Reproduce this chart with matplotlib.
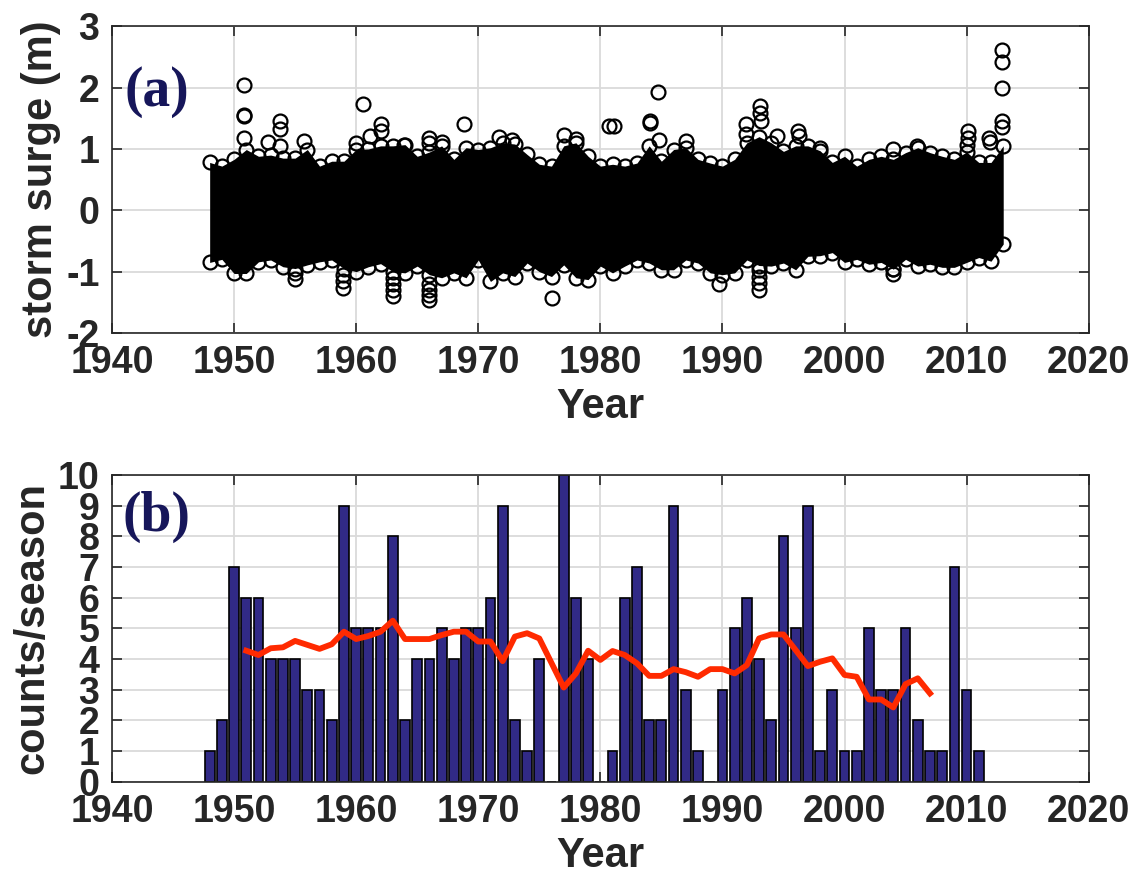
import numpy as np
import matplotlib
matplotlib.use("Agg")
import matplotlib.pyplot as plt

plt.rcParams['font.family'] = ['Liberation Sans', 'DejaVu Sans']
plt.rcParams['font.weight'] = 'bold'
plt.rcParams['axes.labelweight'] = 'bold'
plt.rcParams['axes.unicode_minus'] = False

# --- panel (a): storm surge record -------------------------------------
# dense core of the record, per year (upper / lower edge of the cloud, m)
surge_years = list(range(1948, 2014))
surge_upper = [0.78, 0.72, 0.83, 0.99, 0.88, 0.90, 0.85, 0.85, 0.99, 0.72,
               0.80, 0.80, 0.99, 1.00, 1.05, 1.05, 1.07, 0.88, 0.95, 1.05,
               0.83, 1.02, 0.99, 1.02, 1.10, 1.08, 0.91, 0.75, 0.72, 1.05,
               1.10, 0.88, 0.72, 0.75, 0.72, 0.77, 1.05, 0.80, 0.99, 1.02,
               0.83, 0.77, 0.72, 0.83, 1.10, 1.20, 1.10, 0.96, 1.05, 1.05,
               0.97, 0.78, 0.88, 0.72, 0.83, 0.88, 0.83, 0.94, 1.02, 0.94,
               0.88, 0.83, 0.95, 0.78, 0.78, 1.05]
surge_lower = [-0.85, -0.80, -1.03, -1.03, -0.84, -0.81, -0.92, -0.95, -0.89, -0.84,
               -0.81, -0.95, -1.00, -0.92, -0.87, -1.00, -1.02, -0.91, -1.05, -1.10,
               -1.02, -1.10, -0.81, -1.16, -1.02, -1.08, -0.86, -1.00, -1.08, -0.89,
               -1.10, -1.13, -0.91, -1.02, -0.91, -0.81, -0.86, -0.97, -0.97, -0.81,
               -0.86, -1.02, -1.05, -1.02, -0.81, -0.90, -0.91, -0.86, -0.97, -0.75,
               -0.74, -0.69, -0.85, -0.80, -0.88, -0.85, -0.96, -0.80, -0.91, -0.88,
               -0.93, -0.93, -0.85, -0.77, -0.83, -0.55]

# isolated extreme events
extreme_time = [1950.85, 1950.85, 1950.85, 1950.85, 1953.8, 1953.8, 1953.8, 1952.8,
                1955.75, 1960.6, 1962.0, 1962.0, 1961.1, 1960.0, 1963.9,
                1955.0, 1955.0, 1958.9, 1958.9, 1958.9,
                1963.0, 1963.0, 1963.0, 1963.0,
                1968.8, 1980.7, 1966.0, 1966.0, 1967.0, 1971.7, 1972.8, 1977.0, 1978.0,
                1976.0, 1966.0, 1966.0, 1966.0, 1966.0,
                1984.7, 1981.1, 1984.1, 1984.1, 1984.8, 1987.0, 1993.1, 1993.1, 1993.2,
                1991.9, 1991.9, 1994.5, 1996.2, 1996.3, 1989.7,
                1993.0, 1993.0, 1993.0, 1993.0,
                2012.9, 2012.9, 2012.9, 2012.9, 2012.9, 2011.8, 2011.9, 2010.1, 2010.1,
                2010.0, 2004.0, 2005.9, 1998.0, 2004.0, 2004.0]
extreme_surge = [2.04, 1.56, 1.53, 1.17, 1.45, 1.32, 1.04, 1.11,
                 1.13, 1.73, 1.40, 1.29, 1.21, 1.10, 1.07,
                 -1.02, -1.12, -1.05, -1.15, -1.27,
                 -1.10, -1.20, -1.30, -1.40,
                 1.41, 1.37, 1.18, 1.10, 1.11, 1.20, 1.14, 1.22, 1.16,
                 -1.43, -1.46, -1.38, -1.30, -1.20,
                 1.92, 1.38, 1.45, 1.42, 1.15, 1.13, 1.70, 1.59, 1.45,
                 1.40, 1.24, 1.21, 1.29, 1.21, -1.20,
                 -1.30, -1.19, -1.08, -0.97,
                 2.62, 2.42, 2.00, 1.45, 1.35, 1.17, 1.11, 1.29, 1.17,
                 1.06, 1.00, 1.05, 1.02, -1.04, -0.96]

# --- panel (b): event counts per season --------------------------------
count_years = list(range(1948, 2012))
counts = [1, 2, 7, 6, 6, 4, 4, 4, 3, 3, 2, 9, 5, 5, 5, 8, 2, 4, 4, 5,
          4, 5, 5, 6, 9, 2, 1, 4, 0, 10, 6, 4, 0, 1, 6, 7, 2, 2, 9, 3,
          1, 0, 3, 5, 6, 4, 2, 8, 5, 9, 1, 3, 1, 1, 5, 3, 3, 5, 2, 1,
          1, 7, 3, 1]

# running mean of the counts
mean_years = list(range(1951, 2008))
running_mean = [4.27, 4.13, 4.35, 4.38, 4.59, 4.46, 4.33, 4.48, 4.89, 4.65,
                4.75, 4.89, 5.25, 4.65, 4.65, 4.65, 4.78, 4.89, 4.89, 4.57,
                4.57, 3.93, 4.73, 4.84, 4.67, 3.87, 3.07, 3.53, 4.27, 3.97,
                4.26, 4.13, 3.86, 3.45, 3.45, 3.67, 3.57, 3.42, 3.67, 3.67,
                3.53, 3.80, 4.67, 4.80, 4.80, 4.29, 3.77, 3.91, 4.02, 3.48,
                3.42, 2.68, 2.68, 2.42, 3.18, 3.37, 2.88]

text_col = '#262626'
grid_col = '#dadada'


def style_axes(ax):
    ax.grid(True, color=grid_col, linewidth=1.3)
    ax.set_axisbelow(True)
    ax.tick_params(direction='in', length=7, width=1.2, labelsize=27,
                   colors=text_col, top=True, right=True, labeltop=False,
                   labelright=False)
    ax.tick_params(axis='x', pad=9)
    ax.tick_params(axis='y', pad=9)
    for s in ax.spines.values():
        s.set_color(text_col)
        s.set_linewidth(1.2)
    ax.set_xlim(1940, 2020)
    ax.set_xticks(range(1940, 2021, 10))
    ax.set_xlabel('Year', fontsize=30, color=text_col, labelpad=4)


fig = plt.figure(figsize=(11.37, 8.74), dpi=100)

ax1 = fig.add_axes([0.0985, 0.619, 0.859, 0.351])
ax1.fill_between(surge_years, surge_lower, surge_upper, color='k',
                 linewidth=0, zorder=2)
ax1.plot(surge_years, surge_upper, 'o', mfc='none', mec='k', ms=10, mew=1.6, zorder=3)
ax1.plot(surge_years, surge_lower, 'o', mfc='none', mec='k', ms=10, mew=1.6, zorder=3)
ax1.plot(extreme_time, extreme_surge, 'o', mfc='none', mec='k', ms=10, mew=1.6, zorder=3)
ax1.set_ylim(-2, 3)
ax1.set_yticks(range(-2, 4))
ax1.set_ylabel('storm surge (m)', fontsize=30, color=text_col, labelpad=4)
style_axes(ax1)
ax1.text(0.013, 0.785, '(a)', transform=ax1.transAxes, fontsize=40,
         family='Liberation Serif', fontweight='bold', color='#16165a',
         va='center', ha='left')

ax2 = fig.add_axes([0.0985, 0.1056, 0.859, 0.351])
ax2.bar(count_years, counts, width=0.8, color='#312a86', edgecolor='k',
        linewidth=1.2, zorder=2)
ax2.plot(mean_years, running_mean, color='#ff2a00', linewidth=4.2, zorder=3)
ax2.set_ylim(0, 10)
ax2.set_yticks(range(0, 11))
ax2.set_ylabel('counts/season', fontsize=30, color=text_col, labelpad=4)
style_axes(ax2)
ax2.text(0.011, 0.863, '(b)', transform=ax2.transAxes, fontsize=40,
         family='Liberation Serif', fontweight='bold', color='#16165a',
         va='center', ha='left')

fig.savefig('out.png', dpi=100)
